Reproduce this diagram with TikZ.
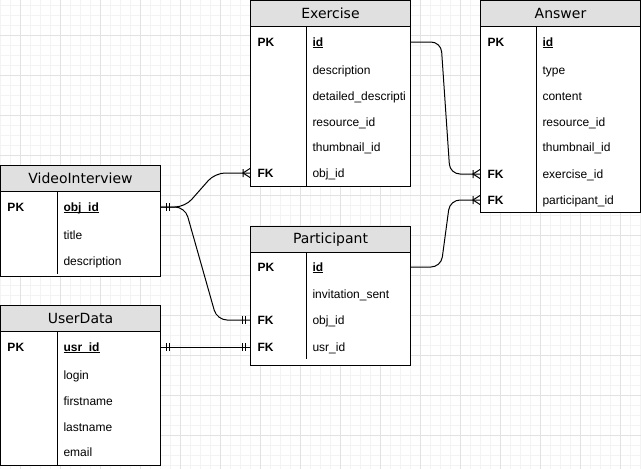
\documentclass[tikz,border=0pt]{standalone}
\usepackage{fontspec}
\setmainfont{Liberation Sans}
\newfontfamily\hdrfont{DejaVu Sans}
\definecolor{hdrgray}{HTML}{E0E0E0}
\definecolor{gridmajor}{HTML}{E2E2E2}
\definecolor{gridminor}{HTML}{F3F3F3}
% bold, underlined primary key name
\newcommand\pkname[1]{\setbox0\hbox{\bfseries #1}\rlap{\rule[-1.7pt]{\wd0}{0.9pt}}\box0}
\tikzset{
  one right/.pic={\draw (5,-4) -- (5,4) (8,-4) -- (8,4);},
  one left/.pic={\draw (-5,-4) -- (-5,4) (-8,-4) -- (-8,4);},
  many left/.pic={\draw (-7,-4) -- (-7,4) (0,-4.5) -- (-7,0) -- (0,4.5);},
}
\begin{document}
\begin{tikzpicture}[x=1pt, y=-1pt, line width=1pt,
    minorline/.style={draw=gridminor},
    majorline/.style={draw=gridmajor},
    tbl/.style={draw, fill=white, minimum width=160, inner sep=0, anchor=north west},
    hdr/.style={draw, fill=hdrgray, minimum width=160, minimum height=26, inner sep=0,
      anchor=north west, font=\hdrfont\fontsize{14}{16}\selectfont},
    key/.style={anchor=west, inner xsep=7pt, inner ysep=0pt, text height=10.5pt,
      text depth=2.5pt, font=\bfseries\fontsize{12}{14}\selectfont},
    fld/.style={anchor=west, inner xsep=6pt, inner ysep=0pt, text height=10.5pt,
      text depth=2.5pt, font=\fontsize{12}{14}\selectfont},
    rel/.style={draw, rounded corners=10pt}]
  \useasboundingbox (0,0) rectangle (641,469);
  % background grid
  \foreach \gx in {0,10,...,640} \draw[minorline] (\gx,0) -- (\gx,469);
  \foreach \gy in {5,15,...,465} \draw[minorline] (0,\gy) -- (641,\gy);
  \foreach \gx in {20,60,...,620} \draw[majorline] (\gx,0) -- (\gx,469);
  \foreach \gy in {35,75,...,435} \draw[majorline] (0,\gy) -- (641,\gy);

  % Exercise
  \node[tbl, minimum height=186] (exercise) at (250,0) {};
  \node[hdr] (exercise-hdr) at (exercise.north west) {Exercise};
  \node[key] (ex-pk) at (250,42) {PK};
  \node[key] (ex-fk) at (250,173) {FK};
  \node[fld] (ex-id) at (306,42) {\pkname{id}};
  \node[fld] (ex-desc) at (306,70) {description};
  \node[fld] (ex-detail) at (306,96) {detailed\_descripti};
  \node[fld] (ex-res) at (306,122) {resource\_id};
  \node[fld] (ex-thumb) at (306,147) {thumbnail\_id};
  \node[fld] (ex-obj) at (306,173) {obj\_id};
  \draw (exercise-hdr.south -| ex-id.west) -- (exercise.south -| ex-id.west);

  % Answer
  \node[tbl, minimum height=212] (answer) at (480,0) {};
  \node[hdr] (answer-hdr) at (answer.north west) {Answer};
  \node[key] (an-pk) at (480,42) {PK};
  \node[key] (an-fk1) at (480,174) {FK};
  \node[key] (an-fk2) at (480,200) {FK};
  \node[fld] (an-id) at (536,42) {\pkname{id}};
  \node[fld] (an-type) at (536,70) {type};
  \node[fld] (an-content) at (536,96) {content};
  \node[fld] (an-res) at (536,122) {resource\_id};
  \node[fld] (an-thumb) at (536,147) {thumbnail\_id};
  \node[fld] (an-ex) at (536,174) {exercise\_id};
  \node[fld] (an-part) at (536,200) {participant\_id};
  \draw (answer-hdr.south -| an-id.west) -- (answer.south -| an-id.west);

  % VideoInterview
  \node[tbl, minimum height=111] (vinterview) at (0,165) {};
  \node[hdr] (vinterview-hdr) at (vinterview.north west) {VideoInterview};
  \node[key] (vi-pk) at (0,207) {PK};
  \node[fld] (vi-id) at (57,207) {\pkname{obj\_id}};
  \node[fld] (vi-title) at (57,235) {title};
  \node[fld] (vi-desc) at (57,261) {description};
  \draw (vinterview-hdr.south -| vi-id.west) -- ([yshift=3pt]vinterview.south -| vi-id.west);

  % UserData
  \node[tbl, minimum height=160] (userdata) at (0,305) {};
  \node[hdr] (userdata-hdr) at (userdata.north west) {UserData};
  \node[key] (ud-pk) at (0,347) {PK};
  \node[fld] (ud-id) at (57,347) {\pkname{usr\_id}};
  \node[fld] (ud-login) at (57,375) {login};
  \node[fld] (ud-first) at (57,401) {firstname};
  \node[fld] (ud-last) at (57,427) {lastname};
  \node[fld] (ud-mail) at (57,452) {email};
  \draw (userdata-hdr.south -| ud-id.west) -- (userdata.south -| ud-id.west);

  % Participant
  \node[tbl, minimum height=139] (participant) at (250,226) {};
  \node[hdr] (participant-hdr) at (participant.north west) {Participant};
  \node[key] (pa-pk) at (250,267) {PK};
  \node[key] (pa-fk1) at (250,320) {FK};
  \node[key] (pa-fk2) at (250,347) {FK};
  \node[fld] (pa-id) at (306,267) {\pkname{id}};
  \node[fld] (pa-inv) at (306,294) {invitation\_sent};
  \node[fld] (pa-obj) at (306,320) {obj\_id};
  \node[fld] (pa-usr) at (306,347) {usr\_id};
  \draw (participant-hdr.south -| pa-id.west) -- ([yshift=7pt]participant.south -| pa-id.west);

  % relations
  \draw[rel] (exercise.east |- ex-id) -- (441,42) -- (450,174) -- (an-fk1.west);
  \draw[rel] (participant.east |- pa-id) -- (441,267) -- (450,200) -- (an-fk2.west);
  \draw[rel] (vinterview.east |- vi-id) -- (185,207) -- (215,173) -- (ex-fk.west);
  \draw[rel] (vinterview.east |- vi-id) -- (185,207) -- (217,320) -- (pa-fk1.west);
  \draw[rel] (userdata.east |- ud-id) -- (pa-fk2.west);
  \pic at (ex-fk.west) {many left};
  \pic at (an-fk1.west) {many left};
  \pic at (an-fk2.west) {many left};
  \pic at (pa-fk1.west) {one left};
  \pic at (pa-fk2.west) {one left};
  \pic at (vinterview.east |- vi-id) {one right};
  \pic at (userdata.east |- ud-id) {one right};
\end{tikzpicture}
\end{document}
